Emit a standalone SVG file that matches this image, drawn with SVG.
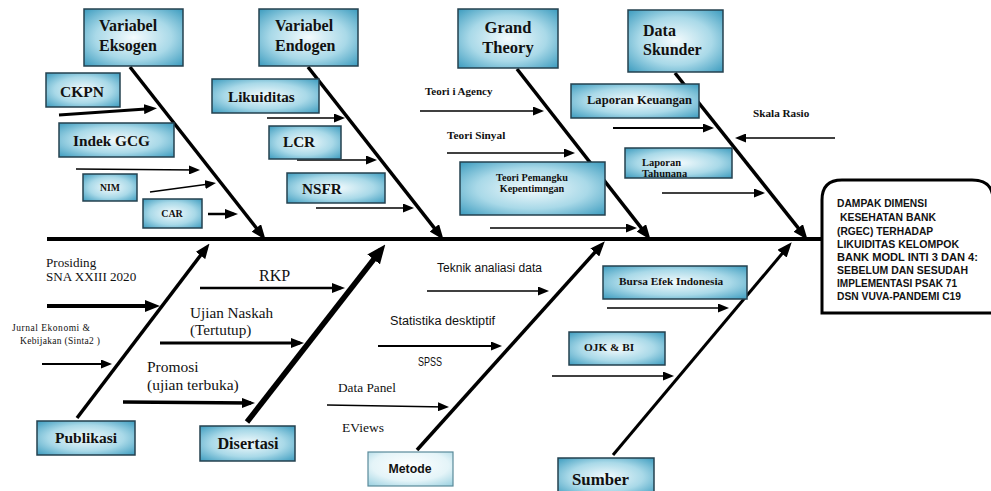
<svg xmlns="http://www.w3.org/2000/svg" width="991" height="491" viewBox="0 0 991 491">
<style>
.box{fill:url(#g);stroke:#24414f;stroke-width:1.5}
.pale{fill:url(#gp);stroke:#5a8a9a;stroke-width:1.2}
.tb{font-family:"Liberation Serif",serif;font-weight:bold;fill:#111}
.tr{font-family:"Liberation Serif",serif;fill:#111}
.ts{font-family:"Liberation Sans",sans-serif;fill:#111}
.tsb{font-family:"Liberation Sans",sans-serif;font-weight:bold;fill:#111}
.c line{stroke:#000;fill:none}
</style>
<defs>
<radialGradient id="g" cx="50%" cy="50%" r="70%">
<stop offset="0" stop-color="#f4fbfd"/>
<stop offset="0.55" stop-color="#a9d9e8"/>
<stop offset="1" stop-color="#3d9cbf"/>
</radialGradient>
<radialGradient id="gp" cx="50%" cy="40%" r="75%">
<stop offset="0" stop-color="#ffffff"/>
<stop offset="0.6" stop-color="#e4f4f8"/>
<stop offset="1" stop-color="#9fd3e2"/>
</radialGradient>
<marker id="ab" markerUnits="userSpaceOnUse" markerWidth="15" markerHeight="12" refX="10" refY="6" orient="auto"><path d="M0,0 L15,6 L0,12 z" fill="#000"/></marker>
<marker id="ax" markerUnits="userSpaceOnUse" markerWidth="19" markerHeight="16" refX="12" refY="8" orient="auto"><path d="M0,0 L19,8 L0,16 z" fill="#000"/></marker>
<marker id="am" markerUnits="userSpaceOnUse" markerWidth="13" markerHeight="10" refX="9" refY="5" orient="auto"><path d="M0,0 L13,5 L0,10 z" fill="#000"/></marker>
<marker id="as" markerUnits="userSpaceOnUse" markerWidth="11" markerHeight="9" refX="8" refY="4.5" orient="auto"><path d="M0,0 L11,4.5 L0,9 z" fill="#000"/></marker>
</defs>
<rect width="991" height="491" fill="#fff"/>

<g id="connectors" class="c">
<line x1="47" y1="239" x2="823" y2="239" stroke-width="4"/>
<line x1="130" y1="67" x2="262.5" y2="235.8" stroke-width="3.5" marker-end="url(#ab)"/>
<line x1="308" y1="67" x2="440.5" y2="235.8" stroke-width="3.5" marker-end="url(#ab)"/>
<line x1="517" y1="69" x2="647.5" y2="235.8" stroke-width="3.5" marker-end="url(#ab)"/>
<line x1="675" y1="73" x2="804.5" y2="235.8" stroke-width="3.5" marker-end="url(#ab)"/>
<line x1="77" y1="418" x2="206.5" y2="247.5" stroke-width="3.5" marker-end="url(#ab)"/>
<line x1="247" y1="422" x2="381" y2="250" stroke-width="5.5" marker-end="url(#ax)"/>
<line x1="417" y1="450" x2="601.5" y2="245" stroke-width="3.5" marker-end="url(#ab)"/>
<line x1="613" y1="455" x2="788.5" y2="246" stroke-width="3" marker-end="url(#ab)"/>
<line x1="59" y1="115" x2="153" y2="108.5" stroke-width="3" marker-end="url(#am)"/>
<line x1="76" y1="169" x2="197" y2="170" stroke-width="1.5" marker-end="url(#as)"/>
<line x1="150" y1="192" x2="213" y2="183.5" stroke-width="1.5" marker-end="url(#as)"/>
<line x1="208" y1="214" x2="234" y2="214" stroke-width="2.5" marker-end="url(#am)"/>
<line x1="267" y1="118" x2="342" y2="118" stroke-width="1.5" marker-end="url(#as)"/>
<line x1="297" y1="160" x2="374" y2="160" stroke-width="1.5" marker-end="url(#as)"/>
<line x1="316" y1="208" x2="411" y2="208" stroke-width="1.5" marker-end="url(#as)"/>
<line x1="420" y1="111" x2="541" y2="111" stroke-width="1.5" marker-end="url(#as)"/>
<line x1="447" y1="153" x2="572" y2="153" stroke-width="1.5" marker-end="url(#as)"/>
<line x1="490" y1="228" x2="634" y2="228" stroke-width="1.5" marker-end="url(#as)"/>
<line x1="613" y1="128" x2="711" y2="128" stroke-width="2" marker-end="url(#as)"/>
<line x1="835" y1="138" x2="738" y2="138" stroke-width="1.5" marker-end="url(#as)"/>
<line x1="662" y1="193" x2="762" y2="193" stroke-width="1.5" marker-end="url(#as)"/>
<line x1="47" y1="306" x2="155" y2="306" stroke-width="4" marker-end="url(#ab)"/>
<line x1="42" y1="364" x2="109" y2="364" stroke-width="2" marker-end="url(#as)"/>
<line x1="200" y1="288" x2="341" y2="288" stroke-width="2.5" marker-end="url(#am)"/>
<line x1="160" y1="343" x2="300" y2="343" stroke-width="3" marker-end="url(#am)"/>
<line x1="123" y1="402" x2="251" y2="403" stroke-width="3.5" marker-end="url(#am)"/>
<line x1="427" y1="291" x2="546" y2="291" stroke-width="1.5" marker-end="url(#as)"/>
<line x1="378" y1="346" x2="499" y2="346" stroke-width="2" marker-end="url(#as)"/>
<line x1="327" y1="405" x2="446" y2="407" stroke-width="1.5" marker-end="url(#as)"/>
<line x1="607" y1="308" x2="726" y2="308" stroke-width="1.5" marker-end="url(#as)"/>
<line x1="552" y1="376" x2="671" y2="376" stroke-width="1.5" marker-end="url(#as)"/>
</g>

<g id="n-eksogen"><rect class="box" x="84" y="9" width="99" height="57"/>
<text class="tb" font-size="16" x="99" y="31">Variabel</text><text class="tb" font-size="16" x="99" y="51">Eksogen</text></g>
<g id="n-ckpn"><rect class="box" x="46" y="73" width="74" height="34"/><text class="tb" font-size="15.5" x="60" y="97">CKPN</text></g>
<g id="n-gcg"><rect class="box" x="59" y="123" width="115" height="34"/><text class="tb" font-size="15.3" x="73" y="146">Indek GCG</text></g>
<g id="n-nim"><rect class="box" x="83" y="174" width="54" height="27"/><text class="tb" font-size="9.7" x="110" y="191" text-anchor="middle">NIM</text></g>
<g id="n-car"><rect class="box" x="143" y="199" width="59" height="29"/><text class="tb" font-size="10" x="172" y="217" text-anchor="middle">CAR</text></g>

<g id="n-endogen"><rect class="box" x="259" y="9" width="99" height="57"/>
<text class="tb" font-size="16" x="275" y="31">Variabel</text><text class="tb" font-size="16" x="275" y="51">Endogen</text></g>
<g id="n-likuiditas"><rect class="box" x="212" y="79" width="107" height="34"/><text class="tb" font-size="15.2" x="228" y="102">Likuiditas</text></g>
<g id="n-lcr"><rect class="box" x="269" y="126" width="72" height="33"/><text class="tb" font-size="15.2" x="283" y="147">LCR</text></g>
<g id="n-nsfr"><rect class="box" x="287" y="173" width="98" height="30"/><text class="tb" font-size="15.2" x="302" y="194">NSFR</text></g>

<g id="n-grand"><rect class="box" x="458" y="9" width="100" height="59"/>
<text class="tb" font-size="16.5" x="508" y="33" text-anchor="middle">Grand</text><text class="tb" font-size="16.5" x="508" y="53" text-anchor="middle">Theory</text></g>
<g id="n-agency"><text class="tb" font-size="11" x="425" y="95">Teori i Agency</text></g>
<g id="n-sinyal"><text class="tb" font-size="11.3" x="447" y="139">Teori Sinyal</text></g>
<g id="n-pemangku"><rect class="box" x="460" y="162" width="145" height="53"/>
<text class="tb" font-size="10.2" x="532" y="181" text-anchor="middle">Teori Pemangku</text><text class="tb" font-size="10.2" x="532" y="191.5" text-anchor="middle">Kepentimngan</text></g>

<g id="n-skunder"><rect class="box" x="628" y="10" width="95" height="62"/>
<text class="tb" font-size="16" x="643" y="36">Data</text><text class="tb" font-size="16" x="643" y="55">Skunder</text></g>
<g id="n-keuangan"><rect class="box" x="571" y="84" width="128" height="34"/><text class="tb" font-size="12" x="587" y="103.5" textLength="105" lengthAdjust="spacingAndGlyphs">Laporan Keuangan</text></g>
<g id="n-skala"><text class="tb" font-size="11.2" x="753" y="117">Skala Rasio</text></g>
<g id="n-tahunan"><rect class="box" x="625" y="148" width="107" height="30"/>
<text class="tb" font-size="10.5" x="642" y="165.5">Laporan</text><text class="tb" font-size="10.5" x="642" y="176.5">Tahunana</text></g>

<g id="n-dampak">
<path d="M822,313 L822,200 Q822,180 842,180 L972,180 Q993,180 993,200 L993,313 Z" fill="#fff" stroke="#000" stroke-width="3"/>
<text class="tsb" font-size="10.6">
<tspan x="837" y="207" textLength="90" lengthAdjust="spacingAndGlyphs">DAMPAK DIMENSI</tspan>
<tspan x="840" y="221" textLength="96" lengthAdjust="spacingAndGlyphs">KESEHATAN BANK</tspan>
<tspan x="837" y="234.5" textLength="96" lengthAdjust="spacingAndGlyphs">(RGEC) TERHADAP</tspan>
<tspan x="837" y="248" textLength="122" lengthAdjust="spacingAndGlyphs">LIKUIDITAS KELOMPOK</tspan>
<tspan x="837" y="261" textLength="141" lengthAdjust="spacingAndGlyphs">BANK MODL INTI 3 DAN 4:</tspan>
<tspan x="837" y="274" textLength="131" lengthAdjust="spacingAndGlyphs">SEBELUM DAN SESUDAH</tspan>
<tspan x="837" y="287" textLength="120" lengthAdjust="spacingAndGlyphs">IMPLEMENTASI PSAK 71</tspan>
<tspan x="837" y="300" textLength="124" lengthAdjust="spacingAndGlyphs">DSN VUVA-PANDEMI C19</tspan>
</text></g>

<g id="n-prosiding"><text class="tr" font-size="13.1" x="46" y="267">Prosiding</text><text class="tr" font-size="13.1" x="46" y="281">SNA XXIII 2020</text></g>
<g id="n-jurnal"><text class="tr" font-size="9.5" x="12" y="331" textLength="78">Jurnal Ekonomi &amp;</text><text class="tr" font-size="9.5" x="20" y="344" textLength="80">Kebijakan (Sinta2 )</text></g>
<g id="n-publikasi"><rect class="box" x="37" y="421" width="98" height="34"/><text class="tb" font-size="15.5" x="86" y="443" text-anchor="middle">Publikasi</text></g>

<g id="n-rkp"><text class="tr" font-size="16" x="259" y="281">RKP</text></g>
<g id="n-ujian"><text class="tr" font-size="15.2" x="190" y="318">Ujian Naskah</text><text class="tr" font-size="15.2" x="190" y="335">(Tertutup)</text></g>
<g id="n-promosi"><text class="tr" font-size="15.5" x="147" y="372">Promosi</text><text class="tr" font-size="15.5" x="147" y="390">(ujian terbuka)</text></g>
<g id="n-disertasi"><rect class="box" x="200" y="426" width="95" height="35"/><text class="tb" font-size="16.2" x="248" y="449" text-anchor="middle">Disertasi</text></g>

<g id="n-teknik"><text class="ts" font-size="12.5" x="437" y="272" textLength="105" lengthAdjust="spacingAndGlyphs">Teknik analiasi data</text></g>
<g id="n-statistika"><text class="ts" font-size="12.5" x="390" y="325" textLength="105" lengthAdjust="spacingAndGlyphs">Statistika desktiptif</text></g>
<g id="n-spss"><text class="ts" font-size="12" x="418" y="366" textLength="24" lengthAdjust="spacingAndGlyphs">SPSS</text></g>
<g id="n-datapanel"><text class="tr" font-size="13.3" x="338" y="392">Data Panel</text></g>
<g id="n-eviews"><text class="tr" font-size="13.5" x="342" y="432">EViews</text></g>
<g id="n-metode"><rect class="pale" x="368" y="452" width="85" height="34"/><text class="tsb" font-size="13" x="410" y="473" text-anchor="middle" textLength="43" lengthAdjust="spacingAndGlyphs">Metode</text></g>

<g id="n-bursa"><rect class="box" x="603" y="266" width="144" height="33"/><text class="tb" font-size="11.3" x="619" y="284.5">Bursa Efek Indonesia</text></g>
<g id="n-ojk"><rect class="box" x="569" y="332" width="96" height="33"/><text class="tb" font-size="11.3" x="584" y="351">OJK &amp; BI</text></g>
<g id="n-sumber"><rect class="box" x="558" y="458" width="96" height="38"/><text class="tb" font-size="16.8" x="572" y="485">Sumber</text></g>
</svg>
